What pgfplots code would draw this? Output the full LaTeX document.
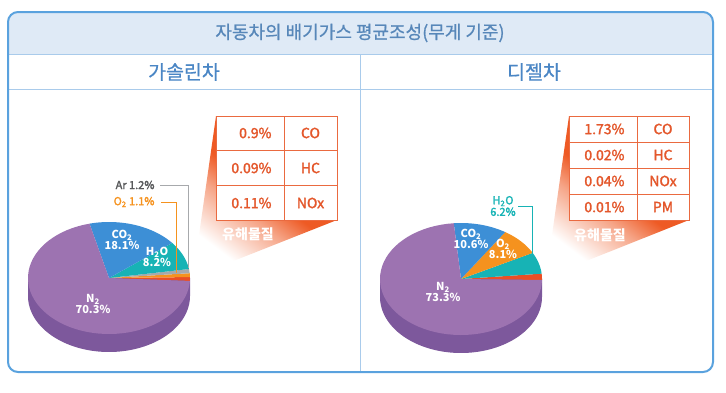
\documentclass[border=0pt]{standalone}
\usepackage{fontspec}
\setmainfont{Noto Sans CJK KR}
\newfontfamily\medfont{Noto Sans CJK KR}[FakeBold=2]
\newfontfamily\semfont{Noto Sans CJK KR}[FakeBold=0.8]
\usepackage{pgfplots}
\pgfplotsset{compat=1.18}
\definecolor{frameblue}{HTML}{5AA2DE}
\definecolor{hdr}{HTML}{DFEAF6}
\definecolor{titleblue}{HTML}{5787B9}
\definecolor{subblue}{HTML}{4A86C5}
\definecolor{inner}{HTML}{A9CBEB}
\definecolor{nTop}{HTML}{9D73B1}
\definecolor{nSide}{HTML}{7D589C}
\definecolor{coBlue}{HTML}{3D8FD6}
\definecolor{hTeal}{HTML}{17B3B5}
\definecolor{oOrange}{HTML}{F5921E}
\definecolor{arGray}{HTML}{A7A9AC}
\definecolor{harm}{HTML}{EA4F25}
\definecolor{tblLine}{HTML}{EA6A40}
\definecolor{tblText}{HTML}{E4572B}
\definecolor{wedge}{HTML}{EE5A24}
\definecolor{labGray}{HTML}{58595B}

\pgfdeclareverticalshading{wedgefade}{100bp}{color(0bp)=(white); color(27bp)=(white); color(42bp)=(wedge!55!white); color(51bp)=(wedge); color(100bp)=(wedge)}

% pie slice: cx, cy, start angle, cumulative percent, percent, colour
\newcommand\pieslice[6]{%
  \pgfmathsetmacro\aA{#3+3.6*#4}\pgfmathsetmacro\aB{#3+3.6*(#4+#5)}%
  \edef\doit{\noexpand\addplot[fill=#6,draw=none,domain=\aA:\aB,samples=60,variable=\noexpand\t]
    ({#1+81*cos(\noexpand\t)},{#2-56*sin(\noexpand\t)}) -- (axis cs:#1,#2) -- cycle;}\doit}
% pie side (depth 18)
\newcommand\pieside[2]{%
  \addplot[fill=nSide,draw=none,domain=180:360,samples=80,variable=\t]
    ({#1+81*cos(\t)},{#2+18-56*sin(\t)}) -- (axis cs:#1+81,#2) -- (axis cs:#1-81,#2) -- cycle;}

\begin{document}
\begin{tikzpicture}
\begin{axis}[x=1bp,y=1bp,y dir=reverse,xmin=0,xmax=726,ymin=0,ymax=392,
  hide axis,clip=false,scale only axis]
\path (axis cs:0,0) rectangle (axis cs:726,392);
% header band
\fill[hdr, rounded corners=10bp] (axis cs:8,12) rectangle (axis cs:713,70);
\fill[white] (axis cs:9,54) rectangle (axis cs:712,75);
\draw[inner, line width=1bp] (axis cs:8,54) -- (axis cs:713,54);
\draw[inner, line width=1bp] (axis cs:8,89) -- (axis cs:713,89);
\draw[inner, line width=1bp] (axis cs:360,54) -- (axis cs:360,372);
\draw[frameblue, line width=2bp, rounded corners=10bp] (axis cs:8,12) rectangle (axis cs:713,372);

\node[text=titleblue, font=\semfont\fontsize{18bp}{20bp}\selectfont] at (axis cs:360,33) {자동차의 배기가스 평균조성(무게 기준)};
\node[text=subblue, font=\semfont\fontsize{19.5bp}{21bp}\selectfont] at (axis cs:184,72) {가솔린차};
\node[text=subblue, font=\semfont\fontsize{19.5bp}{21bp}\selectfont] at (axis cs:534,72) {디젤차};

% ---------------- gasoline ----------------
\path[shading=wedgefade, shading angle=-37]
  (axis cs:193,277) -- (axis cs:216,116) -- (axis cs:337,116) -- (axis cs:337,220) -- cycle;
\fill[white] (axis cs:216,116) rectangle (axis cs:337,220);
\draw[tblLine, line width=1bp] (axis cs:216,116) rectangle (axis cs:337,220);
\draw[tblLine, line width=1bp] (axis cs:284,116) -- (axis cs:284,220);
\draw[tblLine, line width=1bp] (axis cs:216,150.7) -- (axis cs:337,150.7);
\draw[tblLine, line width=1bp] (axis cs:216,185.3) -- (axis cs:337,185.3);
\begin{scope}[every node/.style={text=tblText, font=\medfont\fontsize{14bp}{14bp}\selectfont}]
\node[anchor=east] at (axis cs:275,133) {0.9\%};
\node[anchor=east] at (axis cs:275,168) {0.09\%};
\node[anchor=east] at (axis cs:275,203) {0.11\%};
\node at (axis cs:310.5,133) {CO};
\node at (axis cs:310.5,168) {HC};
\node at (axis cs:310.5,203) {NOx};
\end{scope}
\node[text=white, font=\bfseries\fontsize{14bp}{14bp}\selectfont] at (axis cs:248,234) {유해물질};

\pieside{109}{278}
\pieslice{109}{278}{-3}{0}{1.1}{harm}
\pieslice{109}{278}{-3}{1.1}{1.1}{oOrange}
\pieslice{109}{278}{-3}{2.2}{1.2}{arGray}
\pieslice{109}{278}{-3}{3.4}{8.2}{hTeal}
\pieslice{109}{278}{-3}{11.6}{18.1}{coBlue}
\pieslice{109}{278}{-3}{29.7}{70.3}{nTop}

\begin{scope}[every node/.style={text=white, align=center, font=\bfseries\fontsize{11bp}{11.5bp}\selectfont}]
\node at (axis cs:122,240) {CO\textsubscript{2}\\18.1\%};
\node at (axis cs:157,257) {H\textsubscript{2}O\\8.2\%};
\node at (axis cs:93,304) {N\textsubscript{2}\\70.3\%};
\end{scope}
\draw[arGray, line width=1bp] (axis cs:160,185) -- (axis cs:188,185) -- (axis cs:188,268);
\draw[oOrange, line width=1bp] (axis cs:161,202) -- (axis cs:176,202) -- (axis cs:176,273);
\node[anchor=east, text=labGray, font=\medfont\fontsize{11bp}{11bp}\selectfont] at (axis cs:158,185) {Ar 1.2\%};
\node[anchor=east, text=oOrange, font=\medfont\fontsize{11bp}{11bp}\selectfont] at (axis cs:158,202) {O\textsubscript{2} 1.1\%};

% ---------------- diesel ----------------
\path[shading=wedgefade, shading angle=-37]
  (axis cs:546,277) -- (axis cs:569,116) -- (axis cs:689,116) -- (axis cs:689,220) -- cycle;
\fill[white] (axis cs:569,116) rectangle (axis cs:689,220);
\draw[tblLine, line width=1bp] (axis cs:569,116) rectangle (axis cs:689,220);
\draw[tblLine, line width=1bp] (axis cs:637,116) -- (axis cs:637,220);
\draw[tblLine, line width=1bp] (axis cs:569,142) -- (axis cs:689,142);
\draw[tblLine, line width=1bp] (axis cs:569,168) -- (axis cs:689,168);
\draw[tblLine, line width=1bp] (axis cs:569,194) -- (axis cs:689,194);
\begin{scope}[every node/.style={text=tblText, font=\medfont\fontsize{14bp}{14bp}\selectfont}]
\node[anchor=east] at (axis cs:628,129) {1.73\%};
\node[anchor=east] at (axis cs:628,155) {0.02\%};
\node[anchor=east] at (axis cs:628,181) {0.04\%};
\node[anchor=east] at (axis cs:628,207) {0.01\%};
\node at (axis cs:663,129) {CO};
\node at (axis cs:663,155) {HC};
\node at (axis cs:663,181) {NOx};
\node at (axis cs:663,207) {PM};
\end{scope}
\node[text=white, font=\bfseries\fontsize{14bp}{14bp}\selectfont] at (axis cs:600,235) {유해물질};

\pieside{461}{279}
\pieslice{461}{279}{-1}{0}{1.8}{harm}
\pieslice{461}{279}{-1}{1.8}{6.2}{hTeal}
\pieslice{461}{279}{-1}{8.0}{8.1}{oOrange}
\pieslice{461}{279}{-1}{16.1}{10.6}{coBlue}
\pieslice{461}{279}{-1}{26.7}{73.3}{nTop}

\begin{scope}[every node/.style={text=white, align=center, font=\bfseries\fontsize{11bp}{11.5bp}\selectfont}]
\node at (axis cs:471,239) {CO\textsubscript{2}\\10.6\%};
\node at (axis cs:503,249) {O\textsubscript{2}\\8.1\%};
\node at (axis cs:443,292) {N\textsubscript{2}\\73.3\%};
\end{scope}
\draw[hTeal, line width=1bp] (axis cs:518,206) -- (axis cs:532,206) -- (axis cs:532,253);
\node[text=hTeal, align=center, font=\medfont\fontsize{11bp}{11.5bp}\selectfont] at (axis cs:503,206) {H\textsubscript{2}O\\6.2\%};
\end{axis}
\end{tikzpicture}
\end{document}
